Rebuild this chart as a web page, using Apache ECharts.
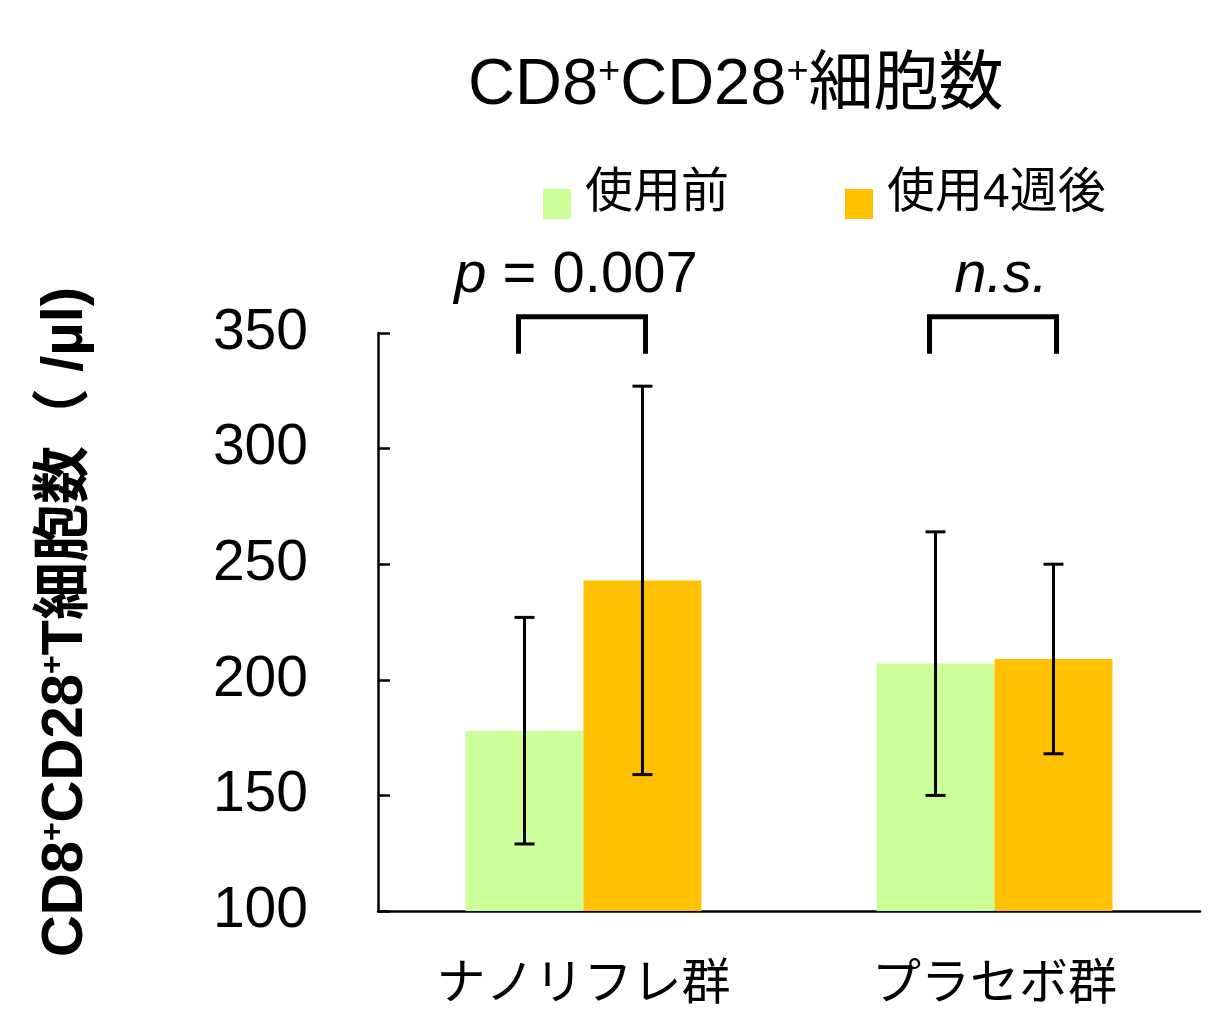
<!DOCTYPE html>
<html>
<head>
<meta charset="utf-8">
<script src="https://cdn.jsdelivr.net/npm/echarts@6.0.0/dist/echarts.min.js"></script>
<style>
  html, body { margin: 0; padding: 0; background: #fff; }
  #main { width: 1208px; height: 1010px; }
</style>
</head>
<body>
<div id="main"></div>
<script>
// データ
var categories = ['ナノリフレ群', 'プラセボ群'];
var seriesNames = ['使用前', '使用4週後'];
var beforeMean = [178, 207];
var beforeErr = [49, 57];
var afterMean = [243, 209];
var afterErr = [84, 41];
var sigLabels = ['{i|p} = 0.007', '{i|n.s.}'];
var yTicks = [100, 150, 200, 250, 300, 350];

var FONT = "'Liberation Sans', Arial, 'Noto Sans CJK JP', sans-serif";
var BAR_RATIO = 0.287;

var chart = echarts.init(document.getElementById('main'));

function errData(mean, err) {
  return mean.map(function (m, i) { return [i, m - err[i], m + err[i]]; });
}

// エラーバー描画 (side: -1 左の棒, 1 右の棒)
function errRender(side) {
  return function (params, api) {
    var band = api.size([1, 0])[0];
    var dx = side * band * BAR_RATIO / 2;
    var lo = api.coord([api.value(0), api.value(1)]);
    var hi = api.coord([api.value(0), api.value(2)]);
    var x = lo[0] + dx;
    var cap = 10;
    var st = { stroke: '#000', lineWidth: 3 };
    return {
      type: 'group',
      children: [
        { type: 'line', shape: { x1: x, y1: hi[1], x2: x, y2: lo[1] }, style: st },
        { type: 'line', shape: { x1: x - cap, y1: hi[1], x2: x + cap, y2: hi[1] }, style: st },
        { type: 'line', shape: { x1: x - cap, y1: lo[1], x2: x + cap, y2: lo[1] }, style: st }
      ]
    };
  };
}

// 有意差ブラケット
var textShift = [-6, 8];
function bracketRender(params, api) {
  var i = api.value(0);
  var band = api.size([1, 0])[0];
  var dx = band * BAR_RATIO / 2;
  var top = api.coord([i, 357]);
  var bot = api.coord([i, 341]);
  var xl = top[0] - dx - 6, xr = top[0] + dx + 3;
  return {
    type: 'group',
    children: [
      {
        type: 'polyline',
        shape: { points: [[xl, bot[1]], [xl, top[1]], [xr, top[1]], [xr, bot[1]]] },
        style: { stroke: '#000', lineWidth: 5, fill: null }
      },
      {
        type: 'text',
        x: (xl + xr) / 2 + textShift[i],
        y: top[1] - 12,
        style: {
          text: sigLabels[i],
          align: 'center',
          verticalAlign: 'bottom',
          fontFamily: FONT,
          fontSize: 58,
          fill: '#000',
          rich: { i: { fontStyle: 'italic', fontSize: 58, fontFamily: FONT } }
        }
      }
    ]
  };
}

var option = {
  backgroundColor: '#fff',
  animation: false,
  title: {
    text: 'CD8{s|+}CD28{s|+}細胞数',
    left: 468,
    top: 54,
    padding: 0,
    textStyle: {
      fontFamily: FONT,
      fontSize: 65,
      fontWeight: 'normal',
      color: '#000',
      rich: {
        s: { fontSize: 38, verticalAlign: 'top', fontFamily: FONT, padding: [0, 0, 26, 0] }
      }
    }
  },
  legend: {
    data: seriesNames,
    left: 538,
    top: 165,
    icon: 'rect',
    itemWidth: 28,
    itemHeight: 30,
    itemGap: 116,
    formatter: '{t|{name}}',
    textStyle: {
      fontFamily: FONT, fontSize: 48, color: '#000',
      rich: { t: { fontFamily: FONT, fontSize: 48, color: '#000', padding: [0, 0, 20, 9] } }
    }
  },
  grid: { left: 378, right: 8, top: 333, bottom: 98, containLabel: false },
  xAxis: {
    type: 'category',
    data: categories,
    axisLine: { lineStyle: { color: '#000', width: 2.5 } },
    axisTick: { show: false },
    axisLabel: { fontFamily: FONT, fontSize: 49, color: '#000', margin: 50 }
  },
  yAxis: {
    type: 'value',
    min: yTicks[0],
    max: yTicks[yTicks.length - 1],
    interval: 50,
    name: 'CD8{s|+}CD28{s|+}T細胞数（ /µl)',
    nameLocation: 'middle',
    nameGap: 283,
    nameRotate: 90,
    nameTextStyle: {
      fontFamily: FONT,
      fontSize: 58,
      fontWeight: 'bold',
      color: '#000',
      rich: {
        s: { fontSize: 32, fontWeight: 'bold', verticalAlign: 'top', fontFamily: FONT, padding: [0, 0, 24, 0] }
      }
    },
    axisLine: { show: true, lineStyle: { color: '#000', width: 2.5 } },
    axisTick: { show: true, inside: true, length: 12, lineStyle: { color: '#000', width: 2.5 } },
    splitLine: { show: false },
    axisLabel: { fontFamily: FONT, fontSize: 57, color: '#000', margin: 70 }
  },
  series: [
    {
      name: seriesNames[0],
      type: 'bar',
      data: beforeMean,
      barWidth: (BAR_RATIO * 100) + '%',
      barGap: '0%',
      itemStyle: { color: '#ccff99' }
    },
    {
      name: seriesNames[1],
      type: 'bar',
      data: afterMean,
      barWidth: (BAR_RATIO * 100) + '%',
      barGap: '0%',
      itemStyle: { color: '#ffc000' }
    },
    {
      type: 'custom',
      renderItem: errRender(-1),
      data: errData(beforeMean, beforeErr),
      z: 10
    },
    {
      type: 'custom',
      renderItem: errRender(1),
      data: errData(afterMean, afterErr),
      z: 10
    },
    {
      type: 'custom',
      renderItem: bracketRender,
      data: [[0], [1]],
      clip: false,
      z: 10
    }
  ]
};

chart.setOption(option);
</script>
</body>
</html>
